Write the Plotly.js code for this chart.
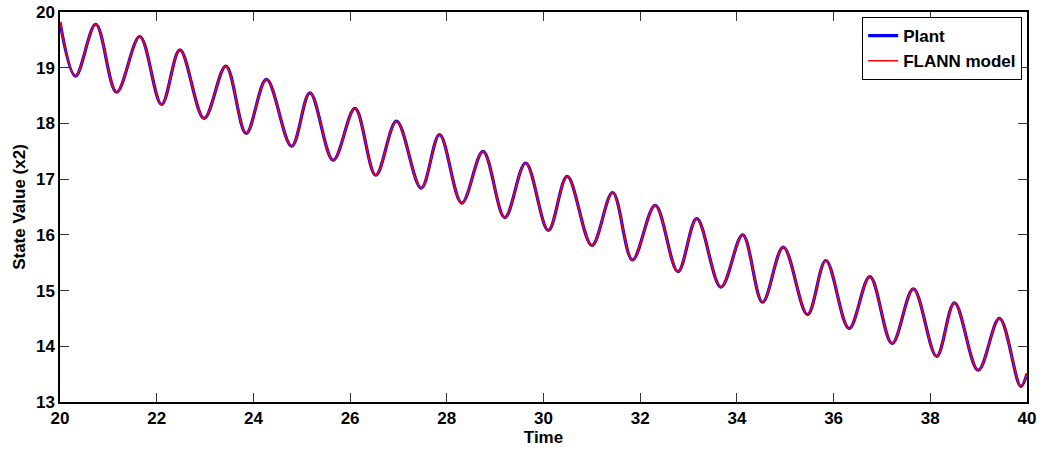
<!DOCTYPE html>
<html>
<head>
<meta charset="utf-8">
<script src="https://cdn.plot.ly/plotly-3.0.1.min.js"></script>
<style>
html,body{margin:0;padding:0;background:#fff;}
#chart{width:1043px;height:452px;}
</style>
</head>
<body>
<div id="chart"></div>
<script>
// Time values (peaks and troughs)
const timeValues = [20.00, 20.32, 20.74, 21.17, 21.65, 22.10, 22.48, 22.98, 23.43, 23.85,
  24.27, 24.79, 25.17, 25.65, 26.10, 26.53, 26.96, 27.47, 27.85, 28.31,
  28.75, 29.20, 29.63, 30.10, 30.49, 31.00, 31.43, 31.84, 32.31, 32.78,
  33.17, 33.67, 34.12, 34.53, 34.96, 35.46, 35.84, 36.32, 36.75, 37.21,
  37.65, 38.13, 38.50, 38.99, 39.43, 39.87, 40.00];
// Plant state x2
const plantValues = [19.82, 18.85, 19.78, 18.56, 19.56, 18.34, 19.32, 18.09, 19.03, 17.82,
  18.79, 17.59, 18.55, 17.34, 18.27, 17.07, 18.04, 16.84, 17.80, 16.57,
  17.50, 16.31, 17.29, 16.08, 17.05, 15.81, 16.76, 15.55, 16.53, 15.34,
  16.29, 15.06, 16.00, 14.79, 15.78, 14.57, 15.54, 14.32, 15.25, 14.05,
  15.03, 13.82, 14.78, 13.57, 14.50, 13.28, 13.51];
// FLANN model output (visually indistinguishable from the plant)
const flannValues = [19.82, 18.85, 19.78, 18.56, 19.56, 18.34, 19.32, 18.09, 19.03, 17.82,
  18.79, 17.59, 18.55, 17.34, 18.27, 17.07, 18.04, 16.84, 17.80, 16.57,
  17.50, 16.31, 17.29, 16.08, 17.05, 15.81, 16.76, 15.55, 16.53, 15.34,
  16.29, 15.06, 16.00, 14.79, 15.78, 14.57, 15.54, 14.32, 15.25, 14.05,
  15.03, 13.82, 14.78, 13.57, 14.50, 13.28, 13.51];
const xTicks = [20, 22, 24, 26, 28, 30, 32, 34, 36, 38, 40];
const yTicks = [13, 14, 15, 16, 17, 18, 19, 20];
const seriesNames = ['Plant', 'FLANN model'];

const fontFam = 'Liberation Sans, Arial, Helvetica, sans-serif';
const tickFont = {family: fontFam, size: 17, color: '#000', weight: 'bold'};
const titleFont = {family: fontFam, size: 17, color: '#000', weight: 'bold'};
const legendFont = {family: fontFam, size: 17, color: '#000', weight: 'bold'};

const traces = [
  {x: timeValues, y: plantValues, name: seriesNames[0], type: 'scatter', mode: 'lines',
   line: {color: '#0000ff', width: 3.2, shape: 'spline', smoothing: 1}},
  {x: timeValues, y: flannValues, name: seriesNames[1], type: 'scatter', mode: 'lines',
   line: {color: '#ff0000', width: 1.6, shape: 'spline', smoothing: 1}}
];

const axisCommon = {
  showline: true, linecolor: '#000', linewidth: 1.6, mirror: 'ticks',
  ticks: 'inside', ticklen: 9, tickwidth: 1, tickcolor: '#333',
  showgrid: false, zeroline: false, tickfont: tickFont
};

const layout = {
  width: 1043, height: 452,
  margin: {l: 60, r: 16, t: 12, b: 50},
  paper_bgcolor: '#fff', plot_bgcolor: '#fff',
  xaxis: Object.assign({}, axisCommon, {
    range: [20, 40], tickvals: xTicks, ticktext: xTicks.map(String),
    title: {text: 'Time', font: titleFont, standoff: 0}
  }),
  yaxis: Object.assign({}, axisCommon, {
    range: [13, 20], tickvals: yTicks, ticktext: yTicks.map(String),
    title: {text: 'State Value (x2)', font: titleFont, standoff: 6}
  }),
  legend: {
    x: 0.995, y: 0.987, xanchor: 'right', yanchor: 'top',
    bgcolor: '#fff', bordercolor: '#000', borderwidth: 1,
    font: legendFont, tracegroupgap: 0
  },
  showlegend: true
};

Plotly.newPlot('chart', traces, layout, {displayModeBar: false, staticPlot: true});
</script>
</body>
</html>
